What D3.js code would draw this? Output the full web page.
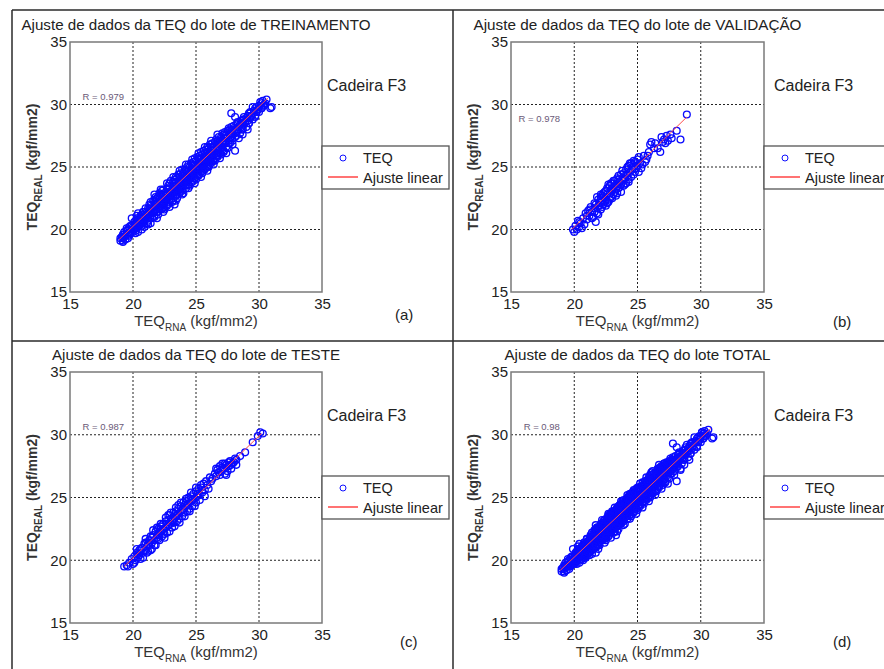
<!DOCTYPE html>
<html>
<head>
<meta charset="utf-8">
<script src="https://cdn.jsdelivr.net/npm/d3@7"></script>
<style>
  body { margin: 0; background: #fff; }
  svg { display: block; font-family: 'Liberation Sans', Arial, sans-serif; }
</style>
</head>
<body>
<svg id="chart" width="884" height="669"></svg>
<script>
// axis ticks (both axes go 15..35)
const axisTicks = [15, 20, 25, 30, 35];
const gridTicks = [20, 25, 30];

// lote de TREINAMENTO  [TEQ_RNA, TEQ_REAL]
const trainPoints = [
  [19.0,19.1],[19.1,19.4],[19.0,19.3],[19.2,19.0],[19.3,19.6],[19.2,19.3],
  [19.4,19.5],[19.5,19.9],[19.6,19.3],[19.5,20.1],[19.7,19.6],[19.4,19.2],[19.6,20.0],
  [19.8,19.7],[19.9,20.3],[20.0,19.8],[20.1,20.6],[20.0,20.2],[20.2,19.7],[19.9,20.9],[20.1,20.0],[20.2,20.4],
  [20.3,20.1],[20.4,20.8],[20.5,20.3],[20.6,21.1],[20.5,20.6],[20.7,20.0],[20.4,21.3],[20.6,20.4],[20.7,20.9],[20.3,20.6],
  [20.8,21.4],[20.9,20.6],[21.0,21.1],[21.1,20.5],[21.0,21.7],[21.2,20.9],[20.9,21.0],[21.1,21.4],[21.2,20.4],[21.0,20.8],[20.8,20.5],
  [21.3,21.2],[21.4,21.9],[21.5,20.9],[21.6,21.5],[21.4,22.2],[21.5,21.7],[21.7,21.0],[21.6,22.3],[21.3,21.6],[21.7,21.4],[21.5,21.3],
  [21.8,22.0],[21.9,21.4],[22.0,22.6],[22.1,21.6],[21.9,22.5],[22.0,21.8],[22.2,22.2],[22.1,22.9],[22.0,21.2],[21.8,22.4],[22.2,21.9],[22.1,22.4],
  [22.3,22.1],[22.4,22.8],[22.5,21.8],[22.6,22.5],[22.4,23.2],[22.5,22.3],[22.7,21.9],[22.6,23.0],[22.3,22.6],[22.7,22.4],[22.5,21.6],[22.4,22.0],
  [22.8,23.3],[22.9,22.4],[23.0,23.0],[23.1,22.2],[22.9,23.7],[23.0,22.7],[23.2,23.5],[23.1,22.9],[22.8,22.6],[23.2,22.3],[23.0,23.9],[23.1,23.2],
  [23.3,23.4],[23.4,22.7],[23.5,24.1],[23.6,23.1],[23.4,23.8],[23.5,22.5],[23.7,23.6],[23.6,24.4],[23.3,23.0],[23.7,22.9],[23.5,23.3],[23.4,24.2],
  [23.8,23.8],[23.9,23.2],[24.0,24.5],[24.1,23.5],[23.9,24.3],[24.0,22.9],[24.2,24.0],[24.1,24.8],[23.8,23.4],[24.2,23.3],[24.0,23.9],[23.9,24.8],
  [24.3,24.2],[24.4,23.6],[24.5,25.0],[24.6,24.1],[24.4,24.7],[24.5,23.5],[24.7,24.5],[24.6,25.3],[24.3,23.9],[24.7,23.8],[24.5,24.4],[24.4,25.2],
  [24.8,24.8],[24.9,24.1],[25.0,25.5],[25.1,24.4],[24.9,25.2],[25.0,24.0],[25.2,25.0],[25.1,25.8],[24.8,24.4],[25.2,24.3],[25.0,24.8],[24.9,25.7],
  [25.3,25.3],[25.4,24.6],[25.5,26.0],[25.6,24.9],[25.4,25.7],[25.5,24.5],[25.7,25.5],[25.6,26.3],[25.3,25.0],[25.7,24.8],[25.5,25.3],[25.4,26.2],
  [25.8,25.8],[25.9,25.1],[26.0,26.5],[26.1,25.4],[25.9,26.2],[26.0,25.0],[26.2,26.0],[26.1,26.8],[25.8,25.5],[26.2,25.3],[26.0,25.8],[25.9,26.6],
  [26.3,26.3],[26.4,25.6],[26.5,27.0],[26.6,25.9],[26.4,26.6],[26.5,25.5],[26.7,26.4],[26.6,27.2],[26.3,26.0],[26.7,25.8],[26.5,26.2],
  [26.8,26.8],[26.9,26.1],[27.0,27.4],[27.1,26.4],[26.9,27.1],[27.0,26.0],[27.2,26.9],[27.1,27.7],[26.8,26.5],[27.2,26.2],
  [27.3,27.3],[27.4,26.6],[27.5,27.9],[27.6,26.9],[27.4,27.6],[27.5,26.5],[27.7,27.3],[27.6,28.1],[27.3,27.0],
  [27.8,27.7],[27.9,27.1],[28.0,28.3],[28.1,27.4],[27.9,28.0],[27.8,29.3],[28.2,27.8],[28.1,26.3],[28.3,28.5],
  [28.4,28.2],[28.5,27.7],[28.6,28.7],[28.7,28.0],[28.5,28.4],[28.8,28.8],[28.7,27.6],
  [28.9,28.6],[29.0,28.2],[29.1,29.1],[29.2,28.5],[29.0,28.9],[29.3,29.3],[29.1,28.0],
  [29.4,29.1],[29.5,28.8],[29.6,29.5],[29.7,29.0],[29.5,29.8],[29.8,29.4],
  [29.9,29.6],[30.0,29.9],[30.1,30.2],[30.2,29.7],[30.0,29.4],[30.3,30.3],
  [30.5,30.1],[30.6,30.4],[31.0,29.8],[30.4,29.9],
  [19.2,19.6],[19.3,19.4],[19.2,19.1],[19.4,19.5],[19.3,19.8],
  [19.7,20.2],[19.8,19.8],[19.7,19.5],[19.9,20.0],[19.8,20.3],[19.6,19.7],
  [20.2,20.7],[20.3,20.3],[20.2,19.9],[20.4,20.5],[20.3,20.9],[20.1,20.1],[20.2,20.4],[20.4,19.8],
  [20.7,21.2],[20.8,20.7],[20.7,20.3],[20.9,21.0],[20.8,21.4],[20.6,20.5],[20.7,20.9],[20.9,20.2],[20.8,21.2],
  [21.2,21.7],[21.3,21.2],[21.2,20.7],[21.4,21.5],[21.3,22.0],[21.1,20.9],[21.2,21.3],[21.4,20.5],[21.3,21.7],[21.1,21.1],
  [21.7,22.3],[21.8,21.6],[21.7,21.1],[21.9,22.0],[21.8,22.6],[21.6,21.4],[21.7,21.8],[21.9,20.9],[21.8,22.2],[21.6,21.5],[21.7,22.8],
  [22.2,22.8],[22.3,22.1],[22.2,21.6],[22.4,22.5],[22.3,23.1],[22.1,21.8],[22.2,22.3],[22.4,21.4],[22.3,22.7],[22.1,22.0],[22.2,23.2],[22.4,21.7],
  [22.7,23.3],[22.8,22.6],[22.7,22.0],[22.9,23.0],[22.8,23.5],[22.6,22.3],[22.7,22.8],[22.9,21.8],[22.8,23.2],[22.6,22.5],[22.7,23.7],[22.9,22.2],
  [23.2,23.8],[23.3,23.1],[23.2,22.5],[23.4,23.5],[23.3,24.0],[23.1,22.8],[23.2,23.3],[23.4,22.3],[23.3,23.7],[23.1,23.0],[23.2,24.2],[23.4,22.7],
  [23.7,24.2],[23.8,23.5],[23.7,23.0],[23.9,23.9],[23.8,24.5],[23.6,23.2],[23.7,23.7],[23.9,22.8],[23.8,24.1],[23.6,23.4],[23.7,24.7],[23.9,23.1],
  [24.2,24.7],[24.3,24.0],[24.2,23.5],[24.4,24.4],[24.3,25.0],[24.1,23.7],[24.2,24.2],[24.4,23.3],[24.3,24.6],[24.1,23.9],[24.2,25.2],[24.4,23.6],
  [24.7,25.2],[24.8,24.5],[24.7,23.9],[24.9,24.9],[24.8,25.4],[24.6,24.2],[24.7,24.7],[24.9,23.7],[24.8,25.1],[24.6,24.4],[24.7,25.6],[24.9,24.1],
  [25.2,25.7],[25.3,25.0],[25.2,24.4],[25.4,25.4],[25.3,25.9],[25.1,24.7],[25.2,25.2],[25.4,24.2],[25.3,25.6],[25.1,24.9],[25.2,26.1],[25.4,24.6],
  [25.7,26.1],[25.8,25.4],[25.7,24.9],[25.9,25.8],[25.8,26.4],[25.6,25.1],[25.7,25.6],[25.9,24.7],[25.8,26.0],[25.6,25.3],[25.7,26.6],[25.9,25.0],
  [26.2,26.6],[26.3,25.9],[26.2,25.4],[26.4,26.3],[26.3,26.9],[26.1,25.6],[26.2,26.1],[26.4,25.2],[26.3,26.5],[26.1,25.8],[26.2,27.1],[26.4,25.5],
  [26.7,27.1],[26.8,26.4],[26.7,25.9],[26.9,26.8],[26.8,27.4],[26.6,26.1],[26.7,26.6],[26.9,25.7],[26.8,27.0],[26.6,26.3],[26.7,27.6],
  [27.2,27.6],[27.3,26.9],[27.2,26.3],[27.4,27.3],[27.3,27.8],[27.1,26.6],[27.2,27.1],[27.4,26.1],[27.3,27.5],[27.1,26.8],
  [27.7,28.0],[27.8,27.4],[27.7,26.9],[27.9,27.7],[27.8,28.2],[27.6,27.1],[27.7,27.6],[27.9,26.8],[27.8,27.9],
  [28.2,28.4],[28.3,27.9],[28.2,27.5],[28.4,28.2],[28.3,28.6],[28.1,27.7],[28.2,28.0],[28.4,27.3],
  [28.7,28.8],[28.8,28.4],[28.7,28.0],[28.9,28.6],[28.8,29.0],[28.6,28.2],[28.7,28.5],
  [29.2,29.3],[29.3,28.9],[29.2,28.5],[29.4,29.1],[29.3,29.4],[29.1,28.7],
  [29.7,29.7],[29.8,29.4],[29.7,29.1],[29.9,29.6],[29.8,29.8],
  [30.2,30.1],[30.3,29.9],[30.2,29.7],[30.4,30.0],
  [20.3,21.1],[23.3,22.0],[28.1,29.0],[30.9,29.7]
];

// lote de VALIDACAO
const validPoints = [
  [19.9,20.0],[20.0,19.8],[20.2,20.0],[20.1,20.3],[20.4,20.2],[20.3,20.7],[20.5,20.5],[20.6,20.1],
  [20.9,21.3],[20.7,20.9],[21.0,20.8],[21.1,21.5],[21.2,21.1],[21.7,20.6],[21.3,21.8],[21.4,21.4],
  [21.5,21.0],[21.6,22.1],[21.6,21.7],[21.8,21.3],[21.9,22.4],[21.9,21.9],[22.0,22.2],[22.1,21.6],
  [22.1,22.8],[22.2,22.3],[22.3,22.0],[22.3,22.6],[22.4,23.0],[22.5,22.4],[22.5,21.9],[22.6,22.8],
  [22.6,23.3],[22.7,22.2],[22.8,22.9],[22.8,23.5],[22.9,22.6],[23.0,23.1],[23.0,23.7],[23.1,22.8],
  [23.1,23.4],[23.2,23.9],[23.3,23.2],[23.3,22.7],[23.4,23.6],[23.5,24.0],[23.5,23.3],[23.6,23.8],
  [23.7,24.4],[23.7,23.0],[23.8,23.9],[23.9,24.5],[23.9,23.5],[24.0,24.1],[24.1,24.8],[24.1,23.7],
  [24.2,24.3],[24.3,25.1],[24.3,24.0],[24.4,24.6],[24.5,25.3],[24.5,24.2],[24.6,24.8],[24.7,24.4],
  [24.8,25.4],[24.9,24.9],[25.0,25.6],[25.1,24.6],[25.2,25.3],[25.4,25.2],[25.5,25.9],[25.7,25.6],
  [25.9,26.2],[26.0,26.8],[26.1,27.0],[26.3,26.5],[26.6,26.5],[26.8,26.2],[26.9,27.4],[27.1,27.2],
  [27.3,27.5],[27.4,27.1],[27.6,27.6],[28.1,27.9],[28.4,27.2],[28.9,29.2],
  [21.2,21.6],[21.4,20.9],[21.6,21.4],[21.8,22.6],[21.9,21.2],[22.0,21.9],[22.1,22.5],[22.2,21.8],
  [22.3,22.9],[22.4,22.2],[22.5,23.1],[22.6,22.1],[22.7,23.6],[22.8,22.4],[22.9,23.2],[23.0,22.5],
  [23.1,23.9],[23.2,23.0],[23.3,23.6],[23.4,22.9],[23.5,24.3],[23.6,23.4],[23.7,23.6],[23.8,24.7],
  [23.9,24.1],[24.0,23.6],[24.1,24.4],[24.2,25.0],[24.3,23.8],[24.4,25.3],[24.6,25.0],[24.7,25.5],
  [24.8,24.6],[25.0,25.1],[25.1,25.8],[25.3,24.9],[25.6,25.4],[20.8,20.4],[21.0,21.1],[20.4,20.6],
  [22.9,23.7],[23.4,24.1],[22.2,22.7],[21.7,22.0],[24.9,25.3],[27.0,27.0],[27.2,26.9],[26.4,26.9],
  [27.7,27.3],[25.8,25.9]
];

// lote de TESTE
const testPoints = [
  [19.3,19.5],[19.5,19.6],[19.7,19.8],[19.9,20.1],[20.0,19.7],[20.1,20.3],[20.2,20.0],[20.3,20.6],
  [20.4,20.2],[20.5,20.8],[20.5,20.4],[20.6,20.1],[20.7,21.0],[20.8,20.6],[20.9,21.3],[21.0,20.8],
  [21.0,21.4],[21.1,21.1],[21.2,20.7],[21.3,21.6],[21.3,21.2],[21.4,21.9],[21.5,21.4],[21.5,20.9],
  [21.6,22.0],[21.7,21.6],[21.8,22.3],[21.8,21.2],[21.9,21.8],[22.0,22.5],[22.0,22.1],[22.1,21.6],
  [22.2,22.7],[22.2,22.3],[22.3,21.9],[22.4,22.9],[22.4,22.5],[22.5,22.1],[22.6,23.1],[22.6,22.6],
  [22.7,22.2],[22.8,23.2],[22.8,22.8],[22.9,23.6],[23.0,22.9],[23.0,23.3],[23.1,22.6],[23.2,23.8],
  [23.2,23.3],[23.3,23.0],[23.4,23.9],[23.4,23.5],[23.5,23.1],[23.6,24.1],[23.6,23.7],[23.7,23.3],
  [23.8,24.3],[23.8,23.9],[23.9,23.5],[24.0,24.6],[24.0,24.1],[24.1,23.8],[24.2,24.7],[24.2,24.3],
  [24.3,23.9],[24.4,25.0],[24.4,24.5],[24.5,24.1],[24.6,25.1],[24.6,24.7],[24.7,24.3],[24.8,25.3],
  [24.9,24.9],[25.0,25.5],[25.0,24.6],[25.1,25.1],[25.2,25.7],[25.3,25.2],[25.4,25.8],[25.5,25.4],
  [25.6,26.1],[25.7,25.6],[25.9,26.0],[26.1,26.6],[26.3,26.5],[26.5,26.9],[26.6,27.3],[26.8,27.0],
  [26.9,27.5],[27.0,27.1],[27.1,27.7],[27.2,27.3],[27.3,26.9],[27.4,27.6],[27.6,27.5],[27.7,27.9],
  [27.8,27.3],[27.9,27.7],[28.1,28.1],[28.2,27.6],[28.5,28.3],[28.9,28.6],[29.5,29.4],[29.9,29.9],
  [30.1,30.2],[30.3,30.1],
  [20.1,19.8],[20.3,20.9],[20.6,20.9],[20.8,20.2],[21.0,21.7],[21.2,21.3],[21.4,20.8],[21.6,22.4],
  [21.7,21.2],[21.9,22.6],[22.0,21.7],[22.2,22.9],[22.3,22.4],[22.5,21.8],[22.6,23.4],[22.7,22.9],
  [22.9,22.3],[23.0,23.8],[23.1,23.1],[23.3,22.7],[23.4,24.2],[23.5,23.6],[23.7,23.0],[23.8,24.6],
  [23.9,24.0],[24.1,23.5],[24.2,24.9],[24.3,24.4],[24.5,23.9],[24.6,25.4],[24.7,24.8],[24.9,24.3],
  [25.0,25.8],[25.1,25.3],[25.3,24.8],[25.4,26.0],[25.5,25.6],[25.7,25.1],[25.8,26.3],[26.0,25.7],
  [26.7,27.2],[26.9,26.8],[27.1,27.4],[27.3,27.7],[27.5,27.1],[27.6,27.8],[27.8,27.6],[28.0,27.8],
  [28.2,28.0],[27.4,26.8],[26.6,26.7],[26.2,26.3],[21.1,20.6],[20.4,20.5],[19.6,19.5],[22.8,23.6],
  [23.6,24.4],[24.4,24.8],[21.5,21.8],[22.1,22.0]
];

// lote TOTAL = todos os lotes
const totalPoints = trainPoints.concat(validPoints, testPoints);

// linear fits, endpoints [x, y]
const fitTrain = [[18.9, 19.2], [30.7, 30.5]];
const fitValid = [[19.8, 20.0], [28.9, 29.0]];
const fitTest  = [[19.3, 19.5], [30.2, 30.1]];
const fitTotal = [[18.9, 19.2], [30.8, 30.5]];

const titles = [
  'Ajuste de dados da TEQ do lote de TREINAMENTO',
  'Ajuste de dados da TEQ do lote de VALIDAÇÃO',
  'Ajuste de dados da TEQ do lote de TESTE',
  'Ajuste de dados da TEQ do lote TOTAL'
];
const titleWidths = [349, 328, 288, 266];
const rLabels = ['R = 0.979', 'R = 0.978', 'R = 0.987', 'R = 0.98'];
const rPos = [[16.0, 30.4], [15.6, 28.6], [16.0, 30.4], [16.0, 30.4]];
const letters = ['(a)', '(b)', '(c)', '(d)'];
const seriesName = 'TEQ';
const fitName = 'Ajuste linear';
const chairName = 'Cadeira F3';

const svg = d3.select('#chart');

// frame of the figure table
const frame = svg.append('g').attr('stroke', '#2a2a2a').attr('stroke-width', 1.5);
frame.append('line').attr('x1', 12).attr('x2', 884).attr('y1', 10).attr('y2', 10);
frame.append('line').attr('x1', 12).attr('x2', 884).attr('y1', 341).attr('y2', 341);
frame.append('line').attr('x1', 12).attr('x2', 12).attr('y1', 10).attr('y2', 669);
frame.append('line').attr('x1', 453).attr('x2', 453).attr('y1', 10).attr('y2', 669);

const panels = [
  { pts: trainPoints, fit: fitTrain, left: 70, top: 42, w: 252, h: 250, chairDx: 5, letterX: 395, letterY: 320 },
  { pts: validPoints, fit: fitValid, left: 511, top: 42, w: 253, h: 250, chairDx: 10, letterX: 833, letterY: 327 },
  { pts: testPoints, fit: fitTest, left: 70, top: 372, w: 252, h: 251, chairDx: 5, letterX: 400, letterY: 647 },
  { pts: totalPoints, fit: fitTotal, left: 511, top: 372, w: 253, h: 251, chairDx: 10, letterX: 833, letterY: 647 }
];

panels.forEach((p, i) => {
  const x = d3.scaleLinear().domain([15, 35]).range([p.left, p.left + p.w]);
  const y = d3.scaleLinear().domain([15, 35]).range([p.top + p.h, p.top]);
  const g = svg.append('g');
  const cx = p.left + p.w / 2;
  const cy = p.top + p.h / 2;
  const right = p.left + p.w;

  // title
  g.append('text')
    .attr('x', cx).attr('y', p.top - 12)
    .attr('text-anchor', 'middle')
    .attr('font-size', 14).attr('fill', '#222')
    .attr('textLength', titleWidths[i]).attr('lengthAdjust', 'spacingAndGlyphs')
    .text(titles[i]);

  // grid
  const grid = g.append('g').attr('stroke', '#222').attr('stroke-width', 1)
    .attr('stroke-dasharray', '2,2');
  grid.selectAll('line.gx').data(gridTicks).join('line')
    .attr('x1', (d) => x(d)).attr('x2', (d) => x(d))
    .attr('y1', p.top).attr('y2', p.top + p.h);
  grid.selectAll('line.gy').data(gridTicks).join('line').attr('class', 'gy')
    .attr('x1', p.left).attr('x2', right)
    .attr('y1', (d) => y(d)).attr('y2', (d) => y(d));

  // axes with tick labels
  const xAxis = g.append('g').attr('transform', `translate(0,${p.top + p.h})`)
    .call(d3.axisBottom(x).tickValues(axisTicks).tickSize(0).tickPadding(6));
  const yAxis = g.append('g').attr('transform', `translate(${p.left},0)`)
    .call(d3.axisLeft(y).tickValues(axisTicks).tickSize(0).tickPadding(3));
  [xAxis, yAxis].forEach((a) => {
    a.select('.domain').remove();
    a.selectAll('text').attr('font-size', 15).attr('fill', '#222')
      .attr('font-family', "'Liberation Sans', Arial, sans-serif");
  });

  // box
  g.append('rect')
    .attr('x', p.left).attr('y', p.top).attr('width', p.w).attr('height', p.h)
    .attr('fill', 'none').attr('stroke', '#7a7a7a').attr('stroke-width', 1.5);

  // scatter
  g.append('g').selectAll('circle').data(p.pts).join('circle')
    .attr('cx', (d) => x(d[0])).attr('cy', (d) => y(d[1]))
    .attr('r', 3.4)
    .attr('fill', 'none').attr('stroke', '#0a0aff').attr('stroke-width', 1.35);

  // linear fit
  g.append('path')
    .attr('d', d3.line().x((d) => x(d[0])).y((d) => y(d[1]))(p.fit))
    .attr('fill', 'none').attr('stroke', '#ff4d4d').attr('stroke-width', 1);

  // R value
  g.append('text')
    .attr('x', x(rPos[i][0])).attr('y', y(rPos[i][1]))
    .attr('font-size', 9.5).attr('fill', '#6a5a78')
    .text(rLabels[i]);

  // axis titles
  const xl = g.append('text')
    .attr('x', cx).attr('y', p.top + p.h + 34)
    .attr('text-anchor', 'middle').attr('font-size', 15).attr('fill', '#333');
  xl.append('tspan').text('TEQ');
  xl.append('tspan').attr('dy', 5).attr('font-size', 10).text('RNA');
  xl.append('tspan').attr('dy', -5).text(' (kgf/mm2)');

  const yl = g.append('text')
    .attr('transform', `translate(${p.left - 33},${cy}) rotate(-90)`)
    .attr('text-anchor', 'middle').attr('font-size', 14).attr('font-weight', 'bold')
    .attr('fill', '#333');
  yl.append('tspan').text('TEQ');
  yl.append('tspan').attr('dy', 5).attr('font-size', 10).text('REAL');
  yl.append('tspan').attr('dy', -5).text(' (kgf/mm2)');

  // Cadeira F3
  g.append('text')
    .attr('x', right + p.chairDx).attr('y', y(31.1))
    .attr('font-size', 16).attr('fill', '#222')
    .text(chairName);

  // legend
  const lg = g.append('g').attr('transform', `translate(${right},${p.top + 104})`);
  lg.append('rect').attr('width', 127).attr('height', 43)
    .attr('fill', '#fff').attr('stroke', '#555').attr('stroke-width', 1.3);
  lg.append('circle').attr('cx', 21).attr('cy', 12).attr('r', 3)
    .attr('fill', 'none').attr('stroke', '#1010ff').attr('stroke-width', 1);
  lg.append('text').attr('x', 41).attr('y', 17).attr('font-size', 14.5).attr('fill', '#222')
    .text(seriesName);
  lg.append('line').attr('x1', 6).attr('x2', 36).attr('y1', 31).attr('y2', 31)
    .attr('stroke', '#ff4444').attr('stroke-width', 1.5);
  lg.append('text').attr('x', 41).attr('y', 37).attr('font-size', 14.5).attr('fill', '#222')
    .text(fitName);

  // panel letter
  g.append('text')
    .attr('x', p.letterX).attr('y', p.letterY)
    .attr('font-size', 15).attr('fill', '#222')
    .text(letters[i]);
});
</script>
</body>
</html>
